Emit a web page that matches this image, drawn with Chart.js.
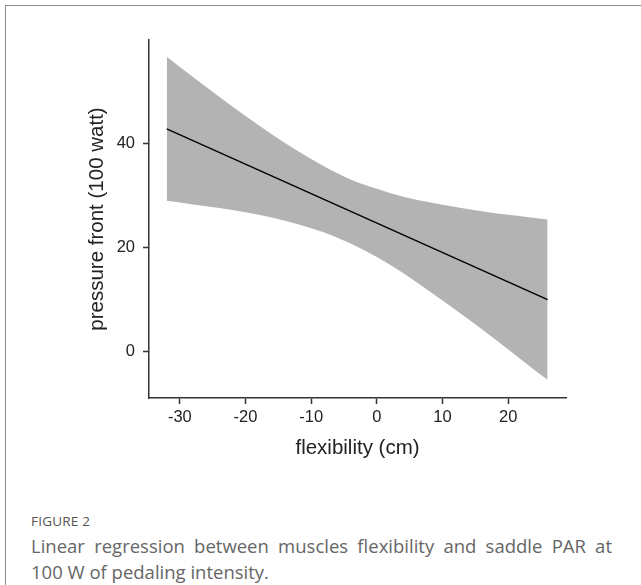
<!DOCTYPE html>
<html>
<head>
<meta charset="utf-8">
<script src="https://cdn.jsdelivr.net/npm/chart.js@4"></script>
<style>
  html, body { margin: 0; padding: 0; background: #fff; }
  body { width: 641px; height: 585px; position: relative; overflow: hidden; }
  /* figure frame: top and left rule only */
  .frame {
    position: absolute; left: 5px; top: 5px; right: 0; bottom: 0;
    border-top: 1px solid #8c8c8c; border-left: 1px solid #8c8c8c;
  }
  #chart { position: absolute; left: 0; top: 0; }
  .fig-label {
    position: absolute; left: 31px; top: 512px;
    font: 13.5px 'Open Sans', sans-serif; color: #555; letter-spacing: 0.2px;
  }
  .fig-caption {
    position: absolute; left: 31px; top: 533px; width: 581px;
    font: 18.5px/26px 'Open Sans', sans-serif; color: #666;
  }
  .fig-caption .l1 { text-align: justify; text-align-last: justify; }
</style>
</head>
<body>
<div class="frame"></div>
<canvas id="chart" width="641" height="480"></canvas>
<div class="fig-label">FIGURE 2</div>
<div class="fig-caption">
  <div class="l1">Linear regression between muscles flexibility and saddle PAR at</div>
  <div>100 W of pedaling intensity.</div>
</div>

<script>
'use strict';

/* ── DATA ───────────────────────────────────────────────── */
const bandX     = [-32, -28, -24, -20, -16, -12, -8, -4, 0, 4, 8, 12, 16, 20, 24, 26];
const bandUpper = [56.6, 52.7, 48.9, 45.2, 41.7, 38.4, 35.5, 33.0, 31.2, 29.7, 28.6, 27.7, 26.9, 26.2, 25.6, 25.3];
const bandLower = [28.9, 28.2, 27.5, 26.7, 25.7, 24.4, 22.8, 20.7, 18.1, 15.0, 11.5, 7.9, 4.2, 0.3, -3.6, -5.5];

const fitX = [-32, 26];
const fitY = [42.7, 9.9];

const xTicks = [-30, -20, -10, 0, 10, 20];
const yTicks = [0, 20, 40];

/* ── STYLE ─────────────────────────── */
const axisColor = '#333';
const textColor = '#222';
const font      = 'Liberation Sans, Arial, sans-serif';

const pts = (xs, ys) => xs.map((x, i) => ({ x, y: ys[i] }));

const axisCommon = {
  type: 'linear',
  border: { display: true, color: axisColor, width: 1.5 },
  grid: {
    drawOnChartArea: false,
    drawTicks: true,
    tickLength: 6,
    tickColor: axisColor,
    tickWidth: 1.5,
  },
};

new Chart(document.getElementById('chart'), {
  type: 'line',
  data: {
    datasets: [
      {
        // regression line (drawn on top)
        data: pts(fitX, fitY),
        borderColor: '#000',
        borderWidth: 1.4,
        pointRadius: 0,
        fill: false,
      },
      {
        // confidence band, upper edge
        data: pts(bandX, bandUpper),
        borderWidth: 0,
        borderColor: 'rgba(0,0,0,0)',
        backgroundColor: '#b3b3b3',
        pointRadius: 0,
        cubicInterpolationMode: 'monotone',
        fill: '+1',
      },
      {
        // confidence band, lower edge
        data: pts(bandX, bandLower),
        borderWidth: 0,
        borderColor: 'rgba(0,0,0,0)',
        pointRadius: 0,
        cubicInterpolationMode: 'monotone',
        fill: false,
      },
    ],
  },
  options: {
    responsive: false,
    animation: false,
    layout: { padding: { left: 85, top: 40, right: 75, bottom: 19 } },
    plugins: {
      legend:  { display: false },
      tooltip: { enabled: false },
    },
    scales: {
      x: {
        ...axisCommon,
        min: -34.7,
        max: 28.8,
        afterBuildTicks: s => { s.ticks = xTicks.map(v => ({ value: v })); },
        afterFit: s => { s.height = 63; },
        ticks: { color: textColor, padding: 4, font: { family: font, size: 16.5 } },
        title: {
          display: true, text: 'flexibility (cm)', color: textColor, padding: 0,
          font: { family: font, size: 20.5 },
        },
      },
      y: {
        ...axisCommon,
        min: -9,
        max: 59.8,
        afterBuildTicks: s => { s.ticks = yTicks.map(v => ({ value: v })); },
        afterFit: s => { s.width = 64; },
        ticks: { color: textColor, padding: 8, font: { family: font, size: 16.5 } },
        title: {
          display: true, text: 'pressure front (100 watt)', color: textColor, padding: 0,
          font: { family: font, size: 20.5 },
        },
      },
    },
  },
});
</script>
</body>
</html>
